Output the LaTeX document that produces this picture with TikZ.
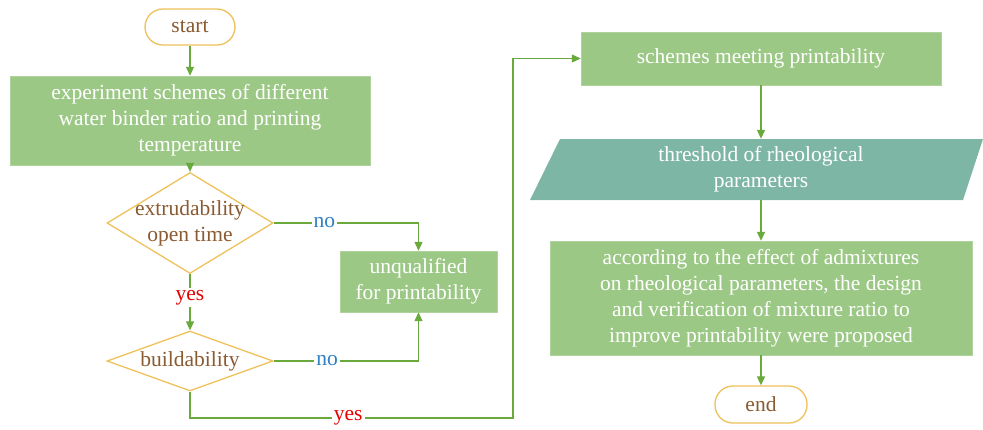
\documentclass[tikz,border=0pt]{standalone}
\usepackage{fontspec}
\setmainfont{Liberation Serif}
\usetikzlibrary{shapes.geometric,arrows.meta}
\definecolor{boxgreen}{HTML}{9CC886}
\definecolor{tealbox}{HTML}{7EB6A6}
\definecolor{gold}{HTML}{EEC15A}
\definecolor{brown}{HTML}{8A5A30}
\definecolor{linegreen}{HTML}{6AAA3C}
\definecolor{noblue}{HTML}{2F80C4}
\definecolor{yesred}{HTML}{E40000}
\tikzset{
  txt/.style={font=\fontsize{21.5}{26}\selectfont, align=center},
  gbox/.style={txt, fill=boxgreen, draw=boxgreen!80!white, text=white, inner sep=0pt},
  term/.style={txt, draw=gold, line width=1.3pt, rounded corners=18pt, text=brown, inner sep=0pt, fill=white},
  dia/.style={diamond, draw=gold, line width=1.3pt, inner sep=0pt},
  conn/.style={draw=linegreen, line width=1.2pt, -{Triangle[length=9pt,width=8pt]}},
  lab/.style={txt, fill=white, inner sep=2pt},
}
\begin{document}
\begin{tikzpicture}[x=1pt,y=-1pt]
\useasboundingbox (0,0) rectangle (983,429);
% nodes
\node[term, minimum width=90, minimum height=36] (start) at (190,27) {start};
\node[gbox, minimum width=360, minimum height=89] (b1) at (190,120.5) {experiment schemes of different\\water binder ratio and printing\\temperature};
\node[dia, minimum width=166, minimum height=101] (d1) at (190,223) {};
\node[txt, text=brown] at (d1) {extrudability\\open time};
\node[dia, minimum width=166, minimum height=60] (d2) at (190,361) {};
\node[txt, text=brown] at (d2) {buildability};
\node[gbox, minimum width=157, minimum height=61] (uq) at (418.5,281.5) {unqualified\\for printability};
\node[gbox, minimum width=360, minimum height=53] (s1) at (761,58.5) {schemes meeting printability};
\fill[tealbox] (560,139) -- (983,139) -- (963,200) -- (530,200) -- cycle;
\node[txt, text=white, minimum width=400, minimum height=61, inner sep=0pt] (th) at (761,169.5) {threshold of rheological\\parameters};
\node[gbox, minimum width=422, minimum height=114] (b3) at (761,298) {according to the effect of admixtures\\on rheological parameters, the design\\and verification of mixture ratio to\\improve printability were proposed};
\node[term, minimum width=92, minimum height=37] (end) at (761,404.5) {end};
\coordinate (c1) at (418.5,223);
\coordinate (c2) at (418.5,361);
\coordinate (c3) at (190,418);
\coordinate (c4) at (513,418);
\coordinate (c5) at (513,58.5);
% connectors
\draw[conn] (start) -- (b1);
\draw[conn] (b1) -- (d1);
\draw[conn] (d1) -- node[lab, text=yesred, pos=0.42] {yes} (d2);
\draw[conn] (d1.east) -- node[lab, text=noblue, pos=0.35] {no} (c1) -- (uq);
\draw[conn] (d2.east) -- node[lab, text=noblue, pos=0.37] {no} (c2) -- (uq);
\draw[conn] (d2.south) -- (c3) -- node[lab, text=yesred, pos=0.49] {yes} (c4) -- (c5) -- (s1);
\draw[conn] (s1) -- (th.north);
\draw[conn] (th.south) -- (b3);
\draw[conn] (b3) -- (end);
\end{tikzpicture}
\end{document}
